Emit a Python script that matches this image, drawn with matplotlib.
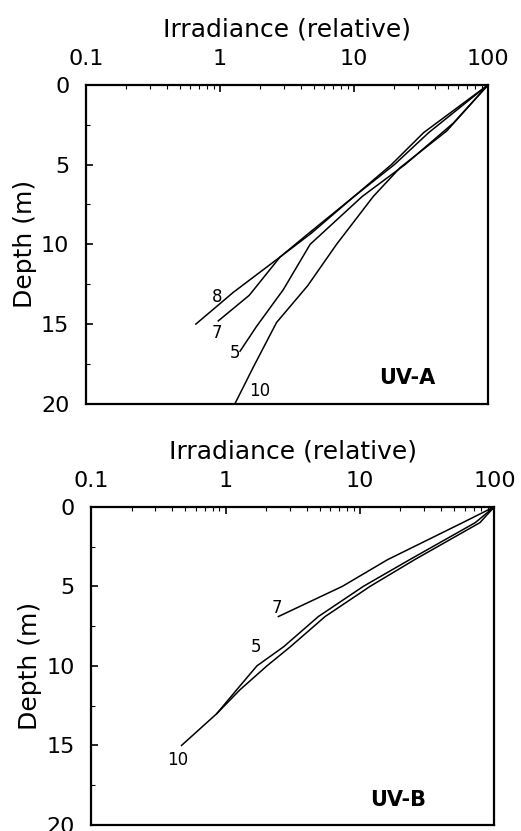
import matplotlib
matplotlib.use("Agg")
import matplotlib.pyplot as plt
from matplotlib.ticker import FixedLocator, NullFormatter

plt.rcParams["font.family"] = ["DejaVu Sans"]

# UV-A profiles: depth (m) and relative irradiance
uva_depth_8 = [0, 3, 5, 7, 9.3, 10.8, 13, 15]
uva_irr_8 = [100, 33, 19, 10, 4.8, 2.8, 1.26, 0.66]
uva_depth_7 = [0, 3, 5, 7, 9.3, 10.8, 13.2, 14.8]
uva_irr_7 = [100, 36, 20, 10, 4.6, 2.8, 1.65, 0.97]
uva_depth_5 = [0, 2.4, 5, 7, 10, 12.85, 15.15, 16.7]
uva_irr_5 = [100, 55, 24, 11.5, 4.7, 2.96, 1.87, 1.41]
uva_depth_10 = [0, 2.9, 5.2, 7, 10, 12.6, 14.9, 17.7, 20]
uva_irr_10 = [100, 49, 22, 13.9, 7.4, 4.5, 2.64, 1.77, 1.29]

# UV-B profiles
uvb_depth_7 = [0, 1, 3.33, 5, 6.9]
uvb_irr_7 = [100, 58, 16, 7.4, 2.47]
uvb_depth_5 = [0, 1, 3.3, 5, 6.9, 8.8, 10, 11.5, 13]
uvb_irr_5 = [100, 72, 23.7, 10.6, 4.9, 2.7, 1.71, 1.21, 0.86]
uvb_depth_10 = [0, 1, 3.3, 5, 6.9, 8.8, 10, 11.5, 13, 15]
uvb_irr_10 = [100, 78, 25.8, 11.9, 5.5, 3.03, 2.03, 1.28, 0.86, 0.47]

x_ticks = [0.1, 1, 10, 100]
x_tick_labels = ["0.1", "1", "10", "100"]
y_ticks = [0, 5, 10, 15, 20]

fig = plt.figure(figsize=(5.21, 8.31), dpi=100)
ax1 = fig.add_axes([0.165, 0.514, 0.772, 0.384])
ax2 = fig.add_axes([0.175, 0.0072, 0.774, 0.383])


def style_axes(ax):
    ax.set_xscale("log")
    ax.set_xlim(0.1, 100)
    ax.set_ylim(20, 0)
    ax.xaxis.tick_top()
    ax.xaxis.set_label_position("top")
    ax.set_xticks(x_ticks)
    ax.set_xticklabels(x_tick_labels)
    ax.xaxis.set_minor_formatter(NullFormatter())
    ax.set_yticks(y_ticks)
    ax.yaxis.set_minor_locator(FixedLocator([2.5, 7.5, 12.5, 17.5]))
    ax.tick_params(axis="both", which="major", direction="in", length=5,
                   width=1.2, labelsize=16, top=True, bottom=False,
                   left=True, right=False)
    ax.tick_params(axis="both", which="minor", direction="in", length=3,
                   width=0.8, top=True, bottom=False, left=True, right=False)
    ax.tick_params(axis="x", which="major", pad=11)
    ax.tick_params(axis="y", which="major", pad=12)
    for s in ax.spines.values():
        s.set_linewidth(1.6)
    ax.set_xlabel("Irradiance (relative)", fontsize=18, labelpad=9)
    ax.set_ylabel("Depth (m)", fontsize=18, labelpad=3)


style_axes(ax1)
for d, v in [(uva_depth_8, uva_irr_8), (uva_depth_7, uva_irr_7),
             (uva_depth_5, uva_irr_5), (uva_depth_10, uva_irr_10)]:
    ax1.plot(v, d, color="black", lw=1.1)
ax1.text(0.95, 13.3, "8", fontsize=12, ha="center", va="center")
ax1.text(0.95, 15.55, "7", fontsize=12, ha="center", va="center")
ax1.text(1.29, 16.8, "5", fontsize=12, ha="center", va="center")
ax1.text(1.99, 19.2, "10", fontsize=12, ha="center", va="center")
ax1.text(24.8, 18.4, "UV-A", fontsize=15, fontweight="bold",
         ha="center", va="center", family=["Liberation Sans Narrow", "DejaVu Sans"])

style_axes(ax2)
for d, v in [(uvb_depth_7, uvb_irr_7), (uvb_depth_5, uvb_irr_5),
             (uvb_depth_10, uvb_irr_10)]:
    ax2.plot(v, d, color="black", lw=1.1)
ax2.text(2.39, 6.35, "7", fontsize=12, ha="center", va="center")
ax2.text(1.69, 8.8, "5", fontsize=12, ha="center", va="center")
ax2.text(0.44, 15.9, "10", fontsize=12, ha="center", va="center")
ax2.text(19.3, 18.4, "UV-B", fontsize=15, fontweight="bold",
         ha="center", va="center", family=["Liberation Sans Narrow", "DejaVu Sans"])

fig.savefig("out.png", dpi=100)
